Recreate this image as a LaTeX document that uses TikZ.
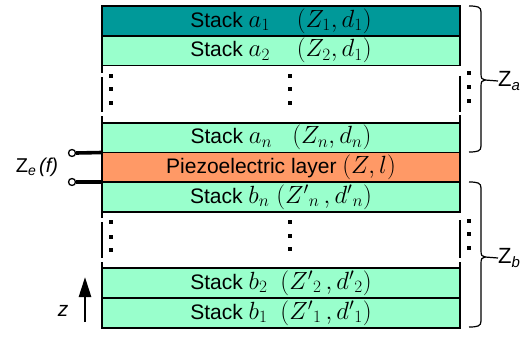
\documentclass[tikz,border=0pt]{standalone}
\usepackage{fontspec}
\setmainfont{Liberation Sans}
\usetikzlibrary{arrows.meta}
\definecolor{teal1}{HTML}{009999}
\definecolor{mint}{HTML}{99FFCC}
\definecolor{peach}{HTML}{FF9966}
\tikzset{
  layer/.style={draw, line width=1.6pt, minimum width=358pt, minimum height=#1, inner sep=0pt, outer sep=0pt, font=\fontsize{21}{24}\selectfont},
  layer/.default=30pt,
  gapbox/.style={minimum width=358pt, minimum height=#1, inner sep=0pt, outer sep=0pt},
  side/.style={line width=1.6pt},
  dotsq/.style={fill=black},
  term/.style={circle, draw, line width=1.3pt, minimum size=7pt, inner sep=0pt, fill=white},
  lead/.style={line width=3.6pt},
  brc/.style={line width=1.2pt},
  biglabel/.style={font=\fontsize{22}{24}\selectfont, anchor=west, inner sep=0pt}
}
\newcommand{\mth}[1]{{\fontsize{24}{26}\selectfont$#1$}}
\newcommand{\sqdot}[2]{\fill[dotsq] (#1-1.6,#2-1.6) rectangle (#1+1.6,#2+1.6);}
\begin{document}
\begin{tikzpicture}[x=1pt,y=-1pt]
\useasboundingbox (0,0) rectangle (522,337);
% layers
\node[layer, fill=teal1] (a1) at (281,21) {Stack \mth{a_1}\hspace{27pt}\mth{(Z_1, d_1)}};
\node[layer=29.5pt, fill=mint] (a2) at (281,50.75) {Stack \mth{a_2}\hspace{27pt}\mth{(Z_2, d_1)}};
\node[gapbox=57.5pt] (g1) at (281,94.25) {};
\node[layer=29.5pt, fill=mint] (an) at (281,137.75) {Stack \mth{a_n}\hspace{20pt}\mth{(Z_n, d_n)}};
\node[layer=29.5pt, fill=peach] (pz) at (281,167.25) {Piezoelectric layer \mth{(Z, l)}};
\node[layer, fill=mint] (bn) at (281,197) {Stack \mth{b_n}\hspace{7pt}\mth{\left({Z'}_{n}\,, {d'}_{n}\right)}};
\node[gapbox=56pt] (g2) at (281,240) {};
\node[layer, fill=mint] (b2) at (281,283) {Stack \mth{b_2}\hspace{13pt}\mth{\left({Z'}_{2}\,, {d'}_{2}\right)}};
\node[layer, fill=mint] (b1) at (281,313) {Stack \mth{b_1}\hspace{13pt}\mth{\left({Z'}_{1}\,, {d'}_{1}\right)}};
% broken side lines of the gaps
\draw[side] (102,66) -- (102,73) (102,77) -- (102,112) (102,116) -- (102,123);
\draw[side] (460,76) -- (460,112) (460,115) -- (460,123);
\draw[side] (102,212) -- (102,218) (102,222) -- (102,258) (102,262) -- (102,268);
\draw[side] (460,220) -- (460,258) (460,262) -- (460,268);
% dots
\sqdot{111}{76}\sqdot{111}{89}\sqdot{111}{103}
\sqdot{290}{76}\sqdot{290}{89}\sqdot{290}{103}
\sqdot{469}{73}\sqdot{469}{87}\sqdot{469}{101}
\sqdot{111}{222}\sqdot{111}{237}\sqdot{111}{250}
\sqdot{290}{222}\sqdot{290}{236}\sqdot{290}{249}
\sqdot{469}{221}\sqdot{469}{234}\sqdot{469}{248}
% braces
\coordinate (bat) at (469,6);
\coordinate (bab) at (469,152);
\coordinate (batip) at (485,80);
\draw[brc] (bat) .. controls (478,6) and (481,7) .. (481,12) -- (481,74) .. controls (481,78) and (482,80) .. (batip) .. controls (482,80) and (481,82) .. (481,86) -- (481,146) .. controls (481,151) and (478,152) .. (bab);
\node[biglabel] (za) at (498,81) {Z\raisebox{-0.35ex}{\fontsize{15}{17}\selectfont\textit{a}}};
\draw[brc] (batip) -- (za.west);
\coordinate (bbt) at (469,182);
\coordinate (bbb) at (469,327);
\coordinate (bbtip) at (485,257);
\draw[brc] (bbt) .. controls (478,182) and (481,183) .. (481,188) -- (481,251) .. controls (481,255) and (482,257) .. (bbtip) .. controls (482,257) and (481,259) .. (481,263) -- (481,321) .. controls (481,326) and (478,327) .. (bbb);
\node[biglabel] (zb) at (498,258) {Z\raisebox{-0.35ex}{\fontsize{15}{17}\selectfont\textit{b}}};
\draw[brc] (bbtip) -- (zb.west);
% electrical terminals
\node[term] (t1) at (72,153) {};
\node[term] (t2) at (72,182) {};
\draw[lead] (t1.east) -- (pz.north west);
\draw[lead] (t2.east) -- (pz.south west);
\node[font=\fontsize{20}{22}\selectfont, inner sep=0pt] (ze) at (37,167) {Z\raisebox{-0.35ex}{\fontsize{14}{16}\selectfont\textit{e}}\,\textit{(f)}};
% z axis
\coordinate (zbot) at (85,322);
\coordinate (ztop) at (85,277);
\draw[line width=2.6pt, -{Triangle[length=20pt, width=12pt]}] (zbot) -- (ztop);
\node[font=\fontsize{21}{24}\selectfont, inner sep=0pt] (zl) at (63,311) {\textit{z}};
\end{tikzpicture}
\end{document}
